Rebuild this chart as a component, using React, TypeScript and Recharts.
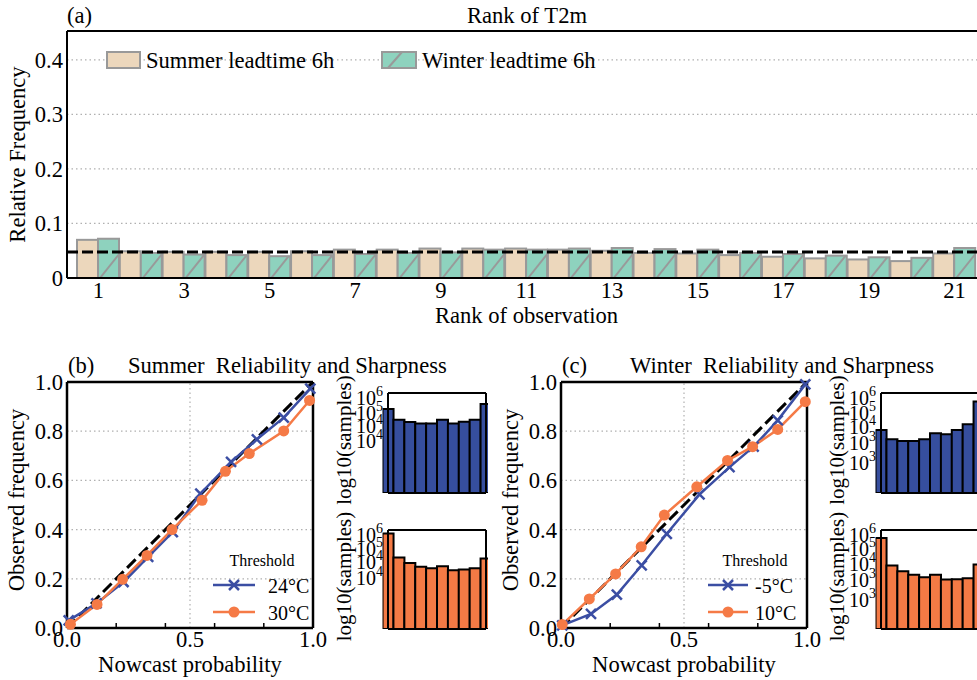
import React from 'react';
import { BarChart, Bar, LineChart, Line, XAxis, YAxis, CartesianGrid, ReferenceLine, Legend } from 'recharts';

const FONT = "'Liberation Serif', 'Times New Roman', Times, serif";
const FS = 22.6;

// ---------- Panel (a): rank histogram ----------
const ranks = [1, 2, 3, 4, 5, 6, 7, 8, 9, 10, 11, 12, 13, 14, 15, 16, 17, 18, 19, 20, 21];
const summerRankFreq = [0.070, 0.049, 0.048, 0.048, 0.048, 0.049, 0.052, 0.052, 0.054, 0.054, 0.054, 0.052, 0.050, 0.046, 0.045, 0.042, 0.039, 0.036, 0.034, 0.031, 0.045];
const winterRankFreq = [0.072, 0.046, 0.043, 0.042, 0.040, 0.042, 0.044, 0.046, 0.047, 0.052, 0.052, 0.054, 0.055, 0.053, 0.052, 0.046, 0.044, 0.041, 0.038, 0.037, 0.055];
const rankSeriesNames = ['Summer leadtime 6h', 'Winter leadtime 6h'];
const rankFreqTicks = [0, 0.1, 0.2, 0.3, 0.4];
const rankFreqMax = 0.453;
const uniformFreq = 1 / 21;

// ---------- Panels (b), (c): reliability ----------
const probTicks = [0, 0.2, 0.4, 0.5, 0.6, 0.8, 1];
const probTickLabels = [0, 0.5, 1];
const obsTicks = [0, 0.2, 0.4, 0.6, 0.8, 1];
const gridObs = [0.2, 0.4, 0.6, 0.8];
const gridProb = [0.5];

const sumProb24 = [0.007, 0.12, 0.23, 0.33, 0.43, 0.542, 0.667, 0.772, 0.881, 0.989];
const sumObs24 = [0.031, 0.10, 0.187, 0.289, 0.39, 0.546, 0.675, 0.767, 0.855, 0.973];
const sumProb30 = [0.014, 0.122, 0.226, 0.325, 0.427, 0.549, 0.644, 0.741, 0.881, 0.986];
const sumObs30 = [0.015, 0.096, 0.198, 0.295, 0.400, 0.519, 0.637, 0.709, 0.801, 0.925];
const winProbM5 = [0.005, 0.122, 0.227, 0.328, 0.43, 0.563, 0.685, 0.783, 0.881, 0.993];
const winObsM5 = [0.011, 0.057, 0.136, 0.255, 0.383, 0.543, 0.654, 0.737, 0.844, 0.99];
const winProb10 = [0.005, 0.115, 0.222, 0.326, 0.42, 0.552, 0.677, 0.779, 0.881, 0.993];
const winObs10 = [0.014, 0.118, 0.22, 0.33, 0.459, 0.574, 0.681, 0.737, 0.807, 0.92];
const summerThresholds = ['24°C', '30°C'];
const winterThresholds = ['-5°C', '10°C'];

// ---------- Sharpness insets: log10(samples) per probability bin ----------
const sharpBins = [0, 1, 2, 3, 4, 5, 6, 7, 8, 9];
const sumSharp24 = [5.38, 4.69, 4.54, 4.45, 4.45, 4.69, 4.45, 4.56, 4.69, 5.70];
const sumSharp30 = [6.17, 4.63, 4.27, 4.03, 3.92, 4.05, 3.79, 3.84, 3.92, 4.55];
const winSharpM5 = [4.04, 3.44, 3.33, 3.33, 3.44, 3.82, 3.76, 4.04, 4.40, 5.86];
const winSharp10 = [5.89, 4.10, 3.73, 3.50, 3.35, 3.50, 3.20, 3.22, 3.28, 4.17];
const sharpMax = 6.4;
const sumInsetTicks = [6.05, 5.15, 4.3, 3.3];
const sumInsetExps = ['6', '5', '4', '4'];
const winInsetTicks = [6.05, 5.15, 4.2, 3.2, 1.9];
const winInsetExps = ['6', '5', '4', '3', '3'];

// ---------- styles ----------
const SUMMER_FILL = '#ecd7bc';
const WINTER_FILL = '#8ed2be';
const EDGE = '#999999';
const BLUE = '#3b4ea3';
const ORANGE = '#f57a46';
const BLUE_BAR = '#364e9e';
const ORANGE_BAR = '#f47a45';
const GRID = '#b0b0b0';

const rankData = ranks.map((r, i) => ({ rank: r, summer: summerRankFreq[i], winter: winterRankFreq[i] }));
const pts = (xs: number[], ys: number[]) => xs.map((x, i) => ({ x, y: ys[i] }));
const diagData = [{ x: 0, y: 0 }, { x: 1, y: 1 }];

const WinterBarShape = (props: any) => {
  const { x, y, width, height, fill } = props;
  if (!height || height <= 0) return null;
  const x0 = x + 2;
  const yb = y + height;
  const slope = 1.25;
  let dx = width - 2;
  let dy = dx * slope;
  if (dy > height) {
    dy = height;
    dx = dy / slope;
  }
  return (
    <g>
      <rect x={x} y={y} width={width} height={height} fill={fill} stroke={EDGE} strokeWidth={2} />
      <line x1={x0} y1={yb} x2={x0 + dx} y2={yb - dy} stroke={EDGE} strokeWidth={2} />
    </g>
  );
};

const SummerBarShape = (props: any) => {
  const { x, y, width, height, fill } = props;
  if (!height || height <= 0) return null;
  return <rect x={x} y={y} width={width} height={height} fill={fill} stroke={EDGE} strokeWidth={2} />;
};

const renderRankLegend = () => (
  <svg width={520} height={24} style={{ display: 'block', overflow: 'visible' }}>
    <rect x={1} y={3} width={33} height={16} fill={SUMMER_FILL} stroke={EDGE} strokeWidth={2} />
    <text x={40} y={19} fontSize={FS} fontFamily={FONT} fill="#000">{rankSeriesNames[0]}</text>
    <rect x={276} y={3} width={34} height={16} fill={WINTER_FILL} stroke={EDGE} strokeWidth={2} />
    <line x1={282} y1={19} x2={296} y2={3} stroke={EDGE} strokeWidth={2} />
    <text x={316} y={19} fontSize={FS} fontFamily={FONT} fill="#000">{rankSeriesNames[1]}</text>
  </svg>
);

const XMark = ({ cx, cy, color }: any) => (
  <g>
    <line x1={cx - 5} y1={cy - 5} x2={cx + 5} y2={cy + 5} stroke={color} strokeWidth={2.5} />
    <line x1={cx - 5} y1={cy + 5} x2={cx + 5} y2={cy - 5} stroke={color} strokeWidth={2.5} />
  </g>
);

const makeRelLegend = (labels: string[], thX: number, lineEnd: number, textX: number) => () => {
  const mx = (8 + lineEnd) / 2;
  return (
    <svg width={130} height={80} style={{ display: 'block', overflow: 'visible' }}>
      <text x={thX} y={18} fontSize={16} textAnchor="middle" fontFamily={FONT} fill="#000">Threshold</text>
      <line x1={8} x2={lineEnd} y1={37} y2={37} stroke={BLUE} strokeWidth={2.5} />
      <XMark cx={mx} cy={37} color={BLUE} />
      <text x={textX} y={45} fontSize={20} fontFamily={FONT} fill="#000">{labels[0]}</text>
      <line x1={8} x2={lineEnd} y1={64} y2={64} stroke={ORANGE} strokeWidth={2.5} />
      <circle cx={mx} cy={64} r={5.5} fill={ORANGE} />
      <text x={textX} y={72} fontSize={20} fontFamily={FONT} fill="#000">{labels[1]}</text>
    </svg>
  );
};

const ProbTick = (props: any) => {
  const { x, y, payload } = props;
  const v = payload.value;
  if (probTickLabels.includes(v)) {
    return (
      <text x={x} y={y + 19} textAnchor="middle" fontSize={FS} fontFamily={FONT} fill="#000">{v.toFixed(1)}</text>
    );
  }
  return <line x1={x} x2={x} y1={y} y2={y - 5} stroke="#000" strokeWidth={1.5} />;
};

function RankPanel() {
  return (
    <div style={{ position: 'absolute', left: 0, top: 0 }}>
      <BarChart width={1000} height={340} data={rankData} margin={{ top: 31, right: 14, bottom: 12, left: 0 }} barCategoryGap={0} barGap={0}>
        <CartesianGrid vertical={false} stroke={GRID} strokeDasharray="1.5 3" strokeWidth={1.2} />
        <XAxis dataKey="rank" type="category" interval={1} padding={{ left: 10, right: 10 }} height={50}
          tickSize={0} tickMargin={4} tickLine={false} axisLine={{ stroke: '#000', strokeWidth: 2 }}
          tick={{ fontSize: FS, fill: '#000' }}
          label={{ value: 'Rank of observation', position: 'insideBottom', offset: 5, fontSize: FS, fill: '#000' }} />
        <YAxis type="number" domain={[0, rankFreqMax]} ticks={rankFreqTicks} interval={0} width={67} allowDataOverflow
          tickSize={0} tickMargin={4} tickLine={false} axisLine={{ stroke: '#000', strokeWidth: 2 }}
          tick={{ fontSize: FS, fill: '#000' }} tickFormatter={(v: number) => (v === 0 ? '0' : v.toFixed(1))}
          label={{ value: 'Relative Frequency', angle: -90, position: 'insideLeft', offset: 17, fontSize: FS, fill: '#000', style: { textAnchor: 'middle' } }} />
        <Bar dataKey="summer" name={rankSeriesNames[0]} fill={SUMMER_FILL} shape={SummerBarShape} isAnimationActive={false} />
        <Bar dataKey="winter" name={rankSeriesNames[1]} fill={WINTER_FILL} shape={WinterBarShape} isAnimationActive={false} />
        <ReferenceLine y={uniformFreq} stroke="#000" strokeWidth={3} strokeDasharray="11 4" />
        <ReferenceLine y={rankFreqMax} stroke="#000" strokeWidth={2} />
        <Legend layout="horizontal" verticalAlign="middle" align="center" content={renderRankLegend}
          wrapperStyle={{ left: 106, top: 49, width: 520, height: 24 }} />
      </BarChart>
    </div>
  );
}

function ReliabilityPanel({ left, blue, orange, labels, legendLeft, thX, lineEnd, textX }: any) {
  return (
    <div style={{ position: 'absolute', left, top: 340 }}>
      <LineChart width={330} height={340} margin={{ top: 42, right: 17, bottom: 7, left: 0 }}>
        <XAxis type="number" dataKey="x" domain={[0, 1]} ticks={probTicks} interval={0} height={45}
          tickSize={0} tickMargin={0} tickLine={false} axisLine={{ stroke: '#000', strokeWidth: 2.5 }}
          tick={ProbTick}
          label={{ value: 'Nowcast probability', position: 'insideBottom', offset: 1, fontSize: FS, fill: '#000' }} />
        <YAxis type="number" dataKey="y" domain={[0, 1]} ticks={obsTicks} interval={0} width={67}
          tickSize={0} tickMargin={4} tickLine={false} axisLine={{ stroke: '#000', strokeWidth: 2.5 }}
          tick={{ fontSize: FS, fill: '#000' }} tickFormatter={(v: number) => v.toFixed(1)}
          label={{ value: 'Observed frequency', angle: -90, position: 'insideLeft', offset: 16, dy: -5, fontSize: FS, fill: '#000', style: { textAnchor: 'middle' } }} />
        {gridObs.map((g) => (
          <ReferenceLine key={'gy' + g} y={g} stroke={GRID} strokeDasharray="1.5 3" strokeWidth={1.2} />
        ))}
        {gridProb.map((g) => (
          <ReferenceLine key={'gx' + g} x={g} stroke={GRID} strokeDasharray="1.5 3" strokeWidth={1.2} />
        ))}
        <ReferenceLine y={1} stroke="#000" strokeWidth={2.5} />
        <ReferenceLine x={1} stroke="#000" strokeWidth={2.5} />
        <Line data={diagData} dataKey="y" stroke="#000" strokeWidth={3} strokeDasharray="12 5" dot={false} isAnimationActive={false} legendType="none" />
        <Line data={blue} dataKey="y" name={labels[0]} stroke={BLUE} strokeWidth={2.5} isAnimationActive={false}
          dot={(p: any) => <XMark key={'b' + p.index} cx={p.cx} cy={p.cy} color={BLUE} />} />
        <Line data={orange} dataKey="y" name={labels[1]} stroke={ORANGE} strokeWidth={2.5} isAnimationActive={false}
          dot={(p: any) => <circle key={'o' + p.index} cx={p.cx} cy={p.cy} r={5.5} fill={ORANGE} />} />
        <Legend layout="horizontal" verticalAlign="middle" align="center"
          content={makeRelLegend(labels, thX, lineEnd, textX)}
          wrapperStyle={{ left: legendLeft, top: 208, width: 130, height: 80 }} />
      </LineChart>
    </div>
  );
}

const INSET_BW = 98 / 9;

function SharpnessInset({ left, top, plotH, values, color, ticks, exps }: any) {
  const data = sharpBins.map((b, i) => ({ bin: b, v: values[i] }));
  const height = 23 + plotH + 30;
  const PowTick = (p: any) => (
    <text key={'t' + p.index} x={p.x} y={p.y + 7} textAnchor="end" fontSize={20} fontFamily={FONT} fill="#000">
      10<tspan dy={-9} fontSize={14}>{exps[p.index]}</tspan>
    </text>
  );
  return (
    <div style={{ position: 'absolute', left, top }}>
      <BarChart width={158} height={height} data={data} margin={{ top: 23, right: 2, bottom: 30, left: 0 }} barCategoryGap={0} barGap={0}>
        <XAxis dataKey="bin" type="category" hide allowDataOverflow padding={{ left: -INSET_BW / 2, right: -INSET_BW / 2 }} />
        <YAxis type="number" domain={[0, sharpMax]} allowDataOverflow ticks={ticks} interval={0} width={58}
          axisLine={false} tickLine={false} tickSize={0} tickMargin={5} tick={PowTick}
          label={{ value: 'log10(samples)', angle: -90, position: 'insideLeft', offset: 14, dy: -3, fontSize: 21, fill: '#000', style: { textAnchor: 'middle' } }} />
        <Bar dataKey="v" fill={color} stroke="#000" strokeWidth={2} isAnimationActive={false} />
        <ReferenceLine y={sharpMax} stroke="#000" strokeWidth={2} />
        <ReferenceLine y={0} stroke="#000" strokeWidth={2} />
        <ReferenceLine x={sharpBins[0]} stroke="#000" strokeWidth={2} />
        <ReferenceLine x={sharpBins[sharpBins.length - 1]} stroke="#000" strokeWidth={2} />
      </BarChart>
    </div>
  );
}

export default function App() {
  return (
    <div style={{ position: 'absolute', left: 0, top: 0, width: 977, height: 680, overflow: 'hidden', background: '#fff', fontFamily: FONT }}>
      <RankPanel />
      <ReliabilityPanel left={0} blue={pts(sumProb24, sumObs24)} orange={pts(sumProb30, sumObs30)} labels={summerThresholds}
        legendLeft={205} thX={57} lineEnd={50} textX={63} />
      <ReliabilityPanel left={494} blue={pts(winProbM5, winObsM5)} orange={pts(winProb10, winObs10)} labels={winterThresholds}
        legendLeft={206} thX={55} lineEnd={48} textX={55} />
      <SharpnessInset left={330} top={370} plotH={100} values={sumSharp24} color={BLUE_BAR} ticks={sumInsetTicks} exps={sumInsetExps} />
      <SharpnessInset left={330} top={507} plotH={99} values={sumSharp30} color={ORANGE_BAR} ticks={sumInsetTicks} exps={sumInsetExps} />
      <SharpnessInset left={823} top={370} plotH={100} values={winSharpM5} color={BLUE_BAR} ticks={winInsetTicks} exps={winInsetExps} />
      <SharpnessInset left={823} top={507} plotH={99} values={winSharp10} color={ORANGE_BAR} ticks={winInsetTicks} exps={winInsetExps} />
      <svg width={977} height={680} style={{ position: 'absolute', left: 0, top: 0, pointerEvents: 'none' }}>
        <g fontFamily={FONT} fontSize={FS} fill="#000">
          <text x={67} y={23}>(a)</text>
          <text x={527} y={23} textAnchor="middle">Rank of T2m</text>
          <text x={68} y={373}>(b)</text>
          <text x={128} y={373} style={{ whiteSpace: 'pre' }}>Summer  Reliability and Sharpness</text>
          <text x={562} y={373}>(c)</text>
          <text x={630} y={373} style={{ whiteSpace: 'pre' }}>Winter  Reliability and Sharpness</text>
        </g>
      </svg>
    </div>
  );
}
